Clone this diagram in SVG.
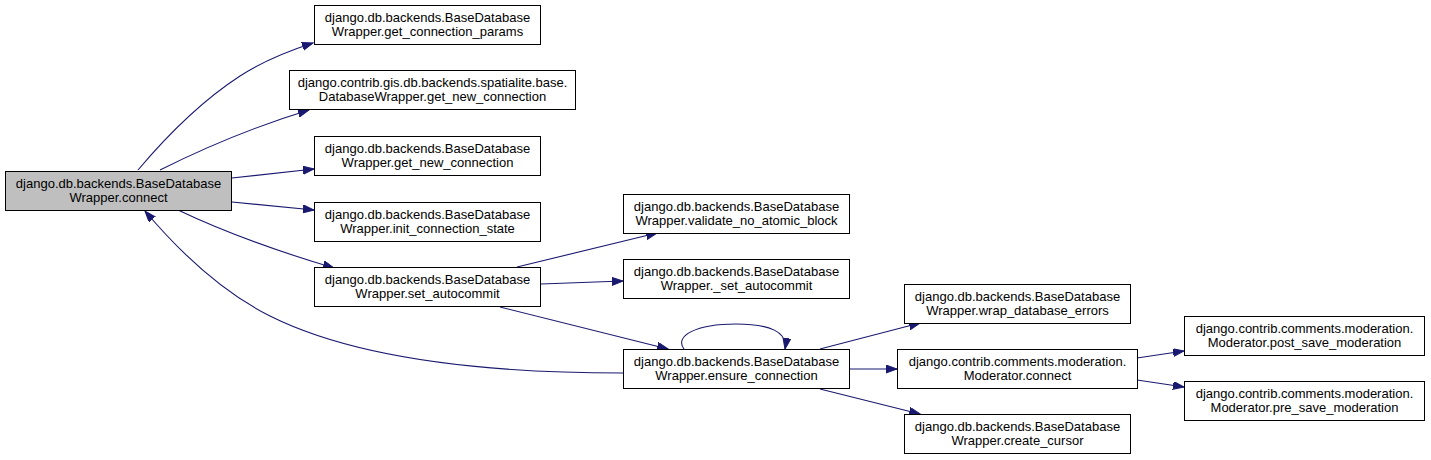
<svg xmlns="http://www.w3.org/2000/svg" width="1431" height="460" viewBox="0 0 1431 460">
<style>
.node rect{fill:#ffffff;stroke:#000000;stroke-width:1}
.node.root rect{fill:#bfbfbf;stroke:#000000}
.node text{font-family:"Liberation Sans",Arial,sans-serif;font-size:13px;text-anchor:middle;fill:#000000}
.edges path{fill:none;stroke:#191970;stroke-width:1.1;marker-end:url(#arr)}
</style>
<defs>
<marker id="arr" markerUnits="userSpaceOnUse" markerWidth="13" markerHeight="10" refX="11" refY="4" orient="auto">
<path d="M0,0 L11,4 L0,8 z" fill="#191970" stroke="#191970" stroke-width="1"/>
</marker>
</defs>
<rect width="1431" height="460" fill="#ffffff"/>
<g class="edges">
<path d="M138,170 C165,138 200,102 240,76 C260,63 282,53 313,43"/>
<path d="M160,170 C200,150 250,128 309,110"/>
<path d="M232,178 L314,169"/>
<path d="M232,202 L314,210"/>
<path d="M178,210 C220,230 280,252 334,268"/>
<path d="M517,267 L657,233"/>
<path d="M541,284 L623,281"/>
<path d="M500,307 L668,349"/>
<path d="M623,373 C520,373 370,366 270,316 C220,291 178,250 145,211"/>
<path d="M684,349 C674,336 696,324 736,324 C770,324 788,332 785,349"/>
<path d="M820,349 L920,323"/>
<path d="M849,369 L897,369"/>
<path d="M820,389 L920,414"/>
<path d="M1137,358 L1184,351"/>
<path d="M1137,380 L1184,387"/>
</g>
<g id="n_connect" class="node root"><rect x="5.5" y="171.5" width="226" height="39"/><text x="118.5" y="187.5">django.db.backends.BaseDatabase</text><text x="118.5" y="202">Wrapper.connect</text></g>
<g id="n_get_connection_params" class="node"><rect x="314.5" y="5.5" width="226" height="39"/><text x="427.5" y="21.5">django.db.backends.BaseDatabase</text><text x="427.5" y="36">Wrapper.get_connection_params</text></g>
<g id="n_spatialite" class="node"><rect x="289.5" y="70.5" width="286" height="39"/><text x="432.5" y="86.5">django.contrib.gis.db.backends.spatialite.base.</text><text x="432.5" y="101">DatabaseWrapper.get_new_connection</text></g>
<g id="n_get_new_connection" class="node"><rect x="314.5" y="136.5" width="226" height="39"/><text x="427.5" y="152.5">django.db.backends.BaseDatabase</text><text x="427.5" y="167">Wrapper.get_new_connection</text></g>
<g id="n_init_connection_state" class="node"><rect x="314.5" y="202.5" width="226" height="39"/><text x="427.5" y="218.5">django.db.backends.BaseDatabase</text><text x="427.5" y="233">Wrapper.init_connection_state</text></g>
<g id="n_set_autocommit" class="node"><rect x="314.5" y="267.5" width="226" height="39"/><text x="427.5" y="283.5">django.db.backends.BaseDatabase</text><text x="427.5" y="298">Wrapper.set_autocommit</text></g>
<g id="n_validate_no_atomic_block" class="node"><rect x="623.5" y="194.5" width="226" height="39"/><text x="736.5" y="210.5">django.db.backends.BaseDatabase</text><text x="736.5" y="225">Wrapper.validate_no_atomic_block</text></g>
<g id="n__set_autocommit" class="node"><rect x="623.5" y="259.5" width="226" height="39"/><text x="736.5" y="275.5">django.db.backends.BaseDatabase</text><text x="736.5" y="290">Wrapper._set_autocommit</text></g>
<g id="n_ensure_connection" class="node"><rect x="623.5" y="349.5" width="226" height="39"/><text x="736.5" y="365.5">django.db.backends.BaseDatabase</text><text x="736.5" y="380">Wrapper.ensure_connection</text></g>
<g id="n_wrap_database_errors" class="node"><rect x="904.5" y="284.5" width="226" height="39"/><text x="1017.5" y="300.5">django.db.backends.BaseDatabase</text><text x="1017.5" y="315">Wrapper.wrap_database_errors</text></g>
<g id="n_moderator_connect" class="node"><rect x="897.5" y="349.5" width="240" height="39"/><text x="1017.5" y="365.5">django.contrib.comments.moderation.</text><text x="1017.5" y="380">Moderator.connect</text></g>
<g id="n_create_cursor" class="node"><rect x="904.5" y="414.5" width="226" height="39"/><text x="1017.5" y="430.5">django.db.backends.BaseDatabase</text><text x="1017.5" y="445">Wrapper.create_cursor</text></g>
<g id="n_post_save_moderation" class="node"><rect x="1184.5" y="316.5" width="240" height="39"/><text x="1304.5" y="332.5">django.contrib.comments.moderation.</text><text x="1304.5" y="347">Moderator.post_save_moderation</text></g>
<g id="n_pre_save_moderation" class="node"><rect x="1184.5" y="381.5" width="240" height="39"/><text x="1304.5" y="397.5">django.contrib.comments.moderation.</text><text x="1304.5" y="412">Moderator.pre_save_moderation</text></g>
</svg>
